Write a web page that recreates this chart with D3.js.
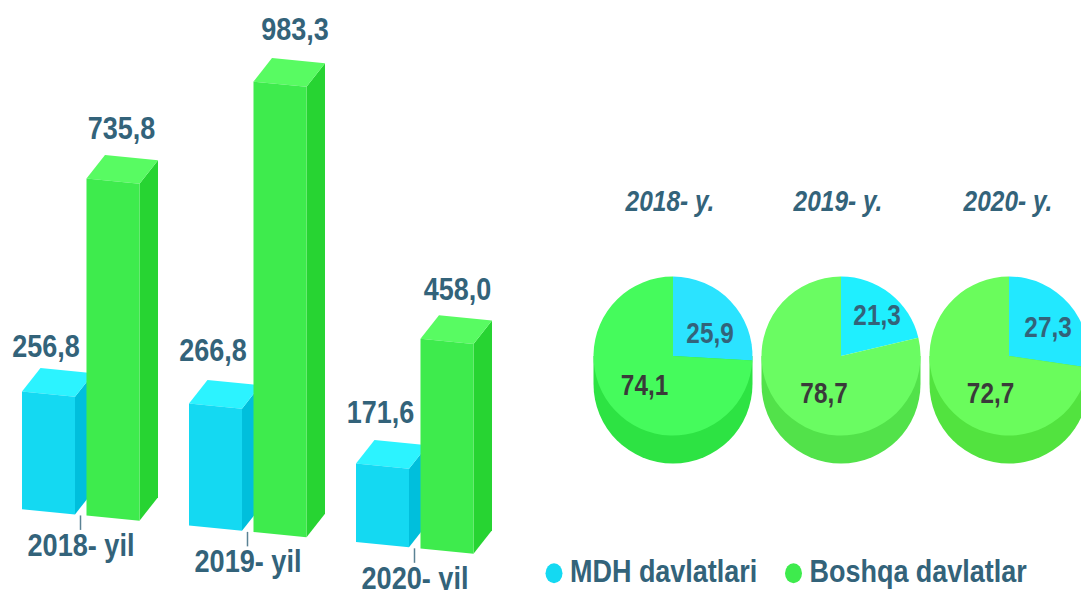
<!DOCTYPE html>
<html>
<head>
<meta charset="utf-8">
<script src="https://cdnjs.cloudflare.com/ajax/libs/d3/7.8.5/d3.min.js"></script>
<style>
  html, body { margin: 0; padding: 0; background: #fff; overflow: hidden; }
  text { font-family: "Liberation Sans", sans-serif; font-weight: bold; }
</style>
</head>
<body>
<svg id="chart" width="1081" height="590"></svg>
<script>
// Data
var years = ["2018", "2019", "2020"];
var barLabels = ["2018- yil", "2019- yil", "2020- yil"];
var pieTitles = ["2018- y.", "2019- y.", "2020- y."];
var seriesNames = ["MDH davlatlari", "Boshqa davlatlar"];
var mdhValues = [256.8, 266.8, 171.6];
var otherValues = [735.8, 983.3, 458.0];
var mdhShares = [25.9, 21.3, 27.3];
var otherShares = [74.1, 78.7, 72.7];

// Colours
var textColor = "#33637a";
var barColors = [
  {front: "#14d9f2", side: "#00bfdc", top: "#2cf3ff"},
  {front: "#3eeb4d", side: "#27d432", top: "#58fb62"}
];
var pieColors = [
  {blue: "#2be3ff", green: "#45fb5c", rim: "#2de343"},
  {blue: "#1fefff", green: "#6afc62", rim: "#52e24a"},
  {blue: "#22e8ff", green: "#6afc5c", rim: "#52e33f"}
];

var svg = d3.select("#chart");
var fmt = function(v) { return v.toFixed(1).replace(".", ","); };

// the reference uses a narrow bold face, so squeeze Liberation Sans sideways
function squeeze(sel, x, y, k) {
  return sel.attr("transform", "translate(" + x + "," + y + ") scale(" + k + ",1)");
}

// Bars: the whole plot is sheared, baseline falls to the right
var x0 = d3.scaleBand().domain(years).range([22, 523]);
var x1 = d3.scaleBand().domain(seriesNames).range([0, 117.5]).paddingInner(0.178);
var h = d3.scaleLinear().domain([0, 1000]).range([0, 458]);
var shear = 0.0985;
var baseY = 507;
var depthX = 18.5, depthY = -23.5;

function pt(x, v) { return [x, baseY + shear * x - h(v)]; }
function poly(points) { return points.map(function(p) { return p.join(","); }).join(" "); }

var bars = [];
years.forEach(function(y, i) {
  bars.push({year: y, group: i, s: 0, value: mdhValues[i]});
  bars.push({year: y, group: i, s: 1, value: otherValues[i]});
});

var labelDx = [[-2.5, -2.5, -2], [8.5, 15, 10.5]];
var labelDy = [[-35, -42, -40], [-40, -42, -39]];

var barG = svg.selectAll(".bar").data(bars).enter().append("g").attr("class", "bar");
barG.each(function(d) {
  var g = d3.select(this);
  var l = x0(d.year) + x1(seriesNames[d.s]);
  var r = l + x1.bandwidth();
  var c = barColors[d.s];
  var tl = pt(l, d.value), tr = pt(r, d.value), bl = pt(l, 0), br = pt(r, 0);
  var off = function(p) { return [p[0] + depthX, p[1] + depthY]; };
  g.append("polygon").attr("points", poly([tr, off(tr), off(br), br])).attr("fill", c.side);
  g.append("polygon").attr("points", poly([tl, off(tl), off(tr), tr])).attr("fill", c.top);
  g.append("polygon").attr("points", poly([tl, tr, br, bl])).attr("fill", c.front);
  squeeze(g.append("text"),
      l + x1.bandwidth() / 2 + labelDx[d.s][d.group],
      tl[1] + labelDy[d.s][d.group], 0.87)
    .attr("text-anchor", "middle")
    .attr("font-size", 31)
    .attr("fill", textColor)
    .text(fmt(d.value));
});

// Year ticks and labels under the bars
years.forEach(function(y, i) {
  var tx = x0(y) + 58.5;
  var ty = pt(tx, 0)[1];
  svg.append("line")
    .attr("x1", tx).attr("x2", tx)
    .attr("y1", ty + 0.5).attr("y2", ty + 15)
    .attr("stroke", "#5a8294").attr("stroke-width", 1.5);
  squeeze(svg.append("text"), tx + 0.5, ty + 41, 0.875)
    .attr("text-anchor", "middle")
    .attr("font-size", 31)
    .attr("fill", textColor)
    .text(barLabels[i]);
});

// Pies
var pieX = d3.scaleBand().domain(years).range([589, 1093]);
var pieY = 356, pieR = 79.5, pieDepth = 28;
var pie = d3.pie().sort(null).value(function(d) { return d; });
var arc = d3.arc().innerRadius(0).outerRadius(pieR);

var shareDx = [[37, -28.5], [36, -17], [39, -18.5]];
var shareDy = [[-13, 39], [-31, 47], [-19, 47]];
var titleDx = [-3, -3, -1];

years.forEach(function(y, i) {
  var cx = pieX(y) + pieX.bandwidth() / 2;
  var g = svg.append("g").attr("transform", "translate(" + cx + "," + pieY + ")");
  var c = pieColors[i];

  g.append("path")
    .attr("d", "M" + (-pieR) + ",0 V" + pieDepth +
      " A" + pieR + "," + pieR + " 0 0 0 " + pieR + "," + pieDepth +
      " V0 Z")
    .attr("fill", c.rim);

  g.selectAll(".slice")
    .data(pie([mdhShares[i], otherShares[i]]))
    .enter().append("path")
    .attr("d", arc)
    .attr("fill", function(d, k) { return k === 0 ? c.blue : c.green; });

  squeeze(g.append("text"), shareDx[i][0], shareDy[i][0], 0.81)
    .attr("text-anchor", "middle").attr("font-size", 30)
    .attr("fill", textColor)
    .text(fmt(mdhShares[i]));
  squeeze(g.append("text"), shareDx[i][1], shareDy[i][1], 0.81)
    .attr("text-anchor", "middle").attr("font-size", 30)
    .attr("fill", "#3a3a3a")
    .text(fmt(otherShares[i]));

  squeeze(svg.append("text"), cx + titleDx[i], 211, 0.815)
    .attr("text-anchor", "middle").attr("font-size", 30)
    .attr("font-style", "italic")
    .attr("fill", textColor)
    .text(pieTitles[i]);
});

// Legend
var legendX = d3.scaleOrdinal().domain(seriesNames).range([554, 793.5]);
var legendFill = d3.scaleOrdinal().domain(seriesNames).range(["#14d9f2", "#3eeb4d"]);
var leg = svg.selectAll(".legend").data(seriesNames).enter().append("g").attr("class", "legend");
leg.append("ellipse")
  .attr("cx", function(d) { return legendX(d); })
  .attr("cy", 573.3).attr("rx", 8.5).attr("ry", 10)
  .attr("fill", function(d) { return legendFill(d); });
leg.append("text")
  .attr("transform", function(d) { return "translate(" + (legendX(d) + 16) + ",582) scale(0.87,1)"; })
  .attr("font-size", 31)
  .attr("fill", textColor)
  .text(function(d) { return d; });
</script>
</body>
</html>
